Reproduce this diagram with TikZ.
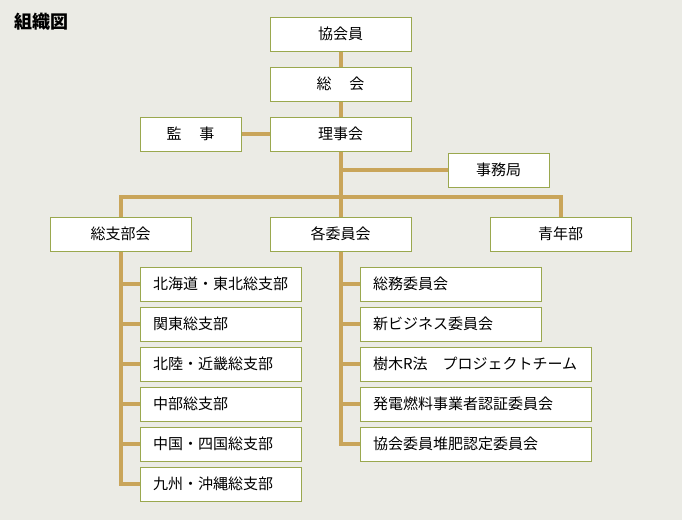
\documentclass[tikz,border=0pt]{standalone}
\usepackage{fontspec}
\setmainfont{Noto Sans CJK JP}
\begin{document}
\begin{tikzpicture}[x=1pt,y=-1pt,
  bx/.style={draw=boxc,fill=white,line width=0.8pt,minimum height=34pt,inner sep=0pt,font=\fontsize{15pt}{17pt}\selectfont},
  ln/.style={draw=linec,line width=4pt}]
\definecolor{bg}{HTML}{EBEBE5}
\definecolor{boxc}{HTML}{9AA84E}
\definecolor{linec}{HTML}{C9A55A}
\fill[bg] (0,0) rectangle (682,520);
\useasboundingbox (0,0) rectangle (682,520);
\node[anchor=west,inner sep=0pt,font=\bfseries\fontsize{18pt}{20pt}\selectfont] (title) at (14,22) {組織図};
\draw[ln] (341,51) -- (341,217);
\draw[ln] (241,134) -- (270,134);
\draw[ln] (341,170) -- (448,170);
\draw[ln] (119,197) -- (563,197);
\draw[ln] (121,197) -- (121,217);
\draw[ln] (561,197) -- (561,217);
\draw[ln] (121,251) -- (121,486);
\foreach \y in {284,324,364,404,444,484} \draw[ln] (121,\y) -- (140,\y);
\draw[ln] (341,251) -- (341,446);
\foreach \y in {284,324,364,404,444} \draw[ln] (341,\y) -- (360,\y);
\node[bx,minimum width=141pt] (kyokai) at (340.5,34) {協会員};
\node[bx,minimum width=141pt] (sokai) at (340.5,84) {総\hspace{1.2em}会};
\node[bx,minimum width=141pt] (riji) at (340.5,134) {理事会};
\node[bx,minimum width=101pt] (kanji) at (190.5,134) {監\hspace{1.2em}事};
\node[bx,minimum width=101pt] (jimu) at (498.5,170) {事務局};
\node[bx,minimum width=141pt] (soshibu) at (120.5,234) {総支部会};
\node[bx,minimum width=141pt] (iin) at (340.5,234) {各委員会};
\node[bx,minimum width=141pt] (seinen) at (560.5,234) {青年部};
\foreach \n/\y/\t in {a/284/北海道・東北総支部,b/324/関東総支部,c/364/北陸・近畿総支部,d/404/中部総支部,e/444/中国・四国総支部,f/484/九州・沖縄総支部}
  \node[bx,minimum width=161pt,text width=135pt,align=left] (L\n) at (220.5,\y) {\t};
\node[bx,minimum width=181pt,text width=155pt,align=left] (Ra) at (450.5,284) {総務委員会};
\node[bx,minimum width=181pt,text width=155pt,align=left] (Rb) at (450.5,324) {新ビジネス委員会};
\node[bx,minimum width=231pt,text width=205pt,align=left] (Rc) at (475.5,364) {樹木R法\hspace{1em}プロジェクトチーム};
\node[bx,minimum width=231pt,text width=205pt,align=left] (Rd) at (475.5,404) {発電燃料事業者認証委員会};
\node[bx,minimum width=231pt,text width=205pt,align=left] (Re) at (475.5,444) {協会委員堆肥認定委員会};
\end{tikzpicture}
\end{document}
